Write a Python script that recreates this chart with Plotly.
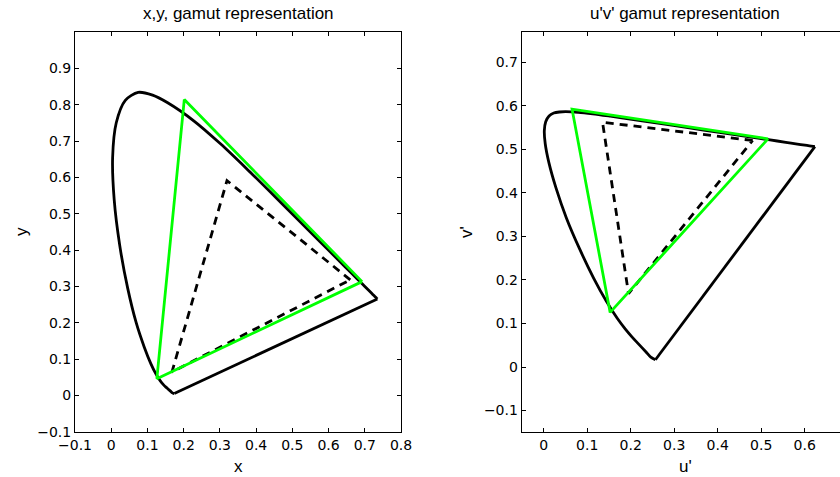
import plotly.graph_objects as go

# CIE 1931 spectral locus (x, y) chromaticities, 380 nm -> 700 nm
locus_x = [0.1741, 0.1689, 0.1644, 0.1566, 0.1510, 0.1440, 0.1355, 0.1241, 0.1096,
           0.0913, 0.0687, 0.0454, 0.0235, 0.0082, 0.0039, 0.0139, 0.0389, 0.0743, 0.1142,
           0.1547, 0.2296, 0.3016, 0.3731, 0.4441, 0.5125, 0.5752, 0.6270, 0.6658, 0.6915,
           0.7079, 0.7190, 0.7260, 0.7300, 0.7334, 0.7347]
locus_y = [0.0050, 0.0069, 0.0109, 0.0177, 0.0227, 0.0297, 0.0399, 0.0578, 0.0868,
           0.1327, 0.2007, 0.2950, 0.4127, 0.5384, 0.6548, 0.7502, 0.8120, 0.8338, 0.8262,
           0.8059, 0.7543, 0.6923, 0.6245, 0.5547, 0.4866, 0.4242, 0.3725, 0.3340, 0.3083,
           0.2920, 0.2809, 0.2740, 0.2700, 0.2666, 0.2653]

# Same locus in u'v'
locus_u = [0.2568, 0.2461, 0.2347, 0.2161, 0.2033, 0.1877, 0.1690, 0.1441, 0.1147,
           0.0828, 0.0521, 0.0282, 0.0119, 0.0035, 0.0014, 0.0046, 0.0123, 0.0231, 0.0360,
           0.0501, 0.0792, 0.1127, 0.1531, 0.2026, 0.2623, 0.3315, 0.4035, 0.4692, 0.5203,
           0.5565, 0.5830, 0.6005, 0.6109, 0.6199, 0.6234]
locus_v = [0.0166, 0.0226, 0.0350, 0.0549, 0.0688, 0.0871, 0.1119, 0.1510, 0.2044,
           0.2708, 0.3427, 0.4117, 0.4698, 0.5131, 0.5432, 0.5638, 0.5770, 0.5837, 0.5861,
           0.5868, 0.5856, 0.5821, 0.5766, 0.5694, 0.5604, 0.5501, 0.5393, 0.5296, 0.5219,
           0.5165, 0.5125, 0.5099, 0.5084, 0.5070, 0.5065]

# Line of purples (700 nm -> 380 nm)
purple_x = [0.7347, 0.1741]
purple_y = [0.2653, 0.0050]
purple_u = [0.6234, 0.2568]
purple_v = [0.5065, 0.0166]

# Wide gamut (green) triangle R, G, B, R
green_x = [0.6925, 0.2017, 0.1260, 0.6925]
green_y = [0.3130, 0.8140, 0.0460, 0.3130]
green_u = [0.5157, 0.0652, 0.1527, 0.5157]
green_v = [0.5245, 0.5925, 0.1255, 0.5245]

# Reference (dashed) triangle R, G, B, R
dash_x = [0.6600, 0.3196, 0.1677, 0.6600]
dash_y = [0.3180, 0.5910, 0.0644, 0.3180]
dash_u = [0.4803, 0.1352, 0.1950, 0.4803]
dash_v = [0.5207, 0.5627, 0.1686, 0.5207]

W, H = 840, 477
TICK_FONT = dict(family="DejaVu Sans", size=14, color="black")
TITLE_FONT = dict(family="Liberation Sans, Arial, sans-serif", size=17, color="black")
LABEL_FONT = dict(family="Liberation Sans, Arial, sans-serif", size=17, color="black")
LW = 2.8

fig = go.Figure()


def add(xs, ys, xa, ya, color, dash="solid", shape="linear"):
    fig.add_trace(go.Scatter(x=xs, y=ys, mode="lines", xaxis=xa, yaxis=ya,
                             line=dict(color=color, width=LW, dash=dash, shape=shape,
                                       smoothing=0.8),
                             showlegend=False, hoverinfo="skip"))


add(locus_x, locus_y, "x", "y", "black", shape="spline")
add(purple_x, purple_y, "x", "y", "black")
add(dash_x, dash_y, "x", "y", "black", "8px,6px")
add(green_x, green_y, "x", "y", "#00ff00")

add(locus_u, locus_v, "x2", "y2", "black", shape="spline")
add(purple_u, purple_v, "x2", "y2", "black")
add(dash_u, dash_v, "x2", "y2", "black", "8px,6px")
add(green_u, green_v, "x2", "y2", "#00ff00")


def px(x):
    return x / W


def py(y):
    return 1 - y / H


axis_common = dict(showgrid=False, zeroline=False, showline=True, linecolor="black",
                   linewidth=1, ticks="inside", ticklen=4, tickcolor="black",
                   tickfont=TICK_FONT, fixedrange=True, automargin=False)

fig.update_layout(
    width=W, height=H, margin=dict(l=0, r=0, t=0, b=0, autoexpand=False),
    paper_bgcolor="white", plot_bgcolor="white",
    xaxis=dict(domain=[px(75), px(401)], range=[-0.1, 0.8],
               tickvals=[-0.1, 0, 0.1, 0.2, 0.3, 0.4, 0.5, 0.6, 0.7, 0.8],
               mirror="allticks", anchor="y", **axis_common),
    yaxis=dict(domain=[py(431.7), py(32)], range=[-0.1, 1.0],
               tickvals=[-0.1, 0, 0.1, 0.2, 0.3, 0.4, 0.5, 0.6, 0.7, 0.8, 0.9],
               mirror="allticks", anchor="x", **axis_common),
    xaxis2=dict(domain=[px(521.7), 1.0], range=[-0.0506, 0.6811],
                tickvals=[0, 0.1, 0.2, 0.3, 0.4, 0.5, 0.6],
                mirror="allticks", anchor="y2", **axis_common),
    yaxis2=dict(domain=[py(431.7), py(32)], range=[-0.1487, 0.770],
                tickvals=[-0.1, 0, 0.1, 0.2, 0.3, 0.4, 0.5, 0.6, 0.7],
                mirror=False, anchor="x2", **axis_common),
)

annotations = [
    dict(text="x,y, gamut representation", x=px(238), y=py(14), font=TITLE_FONT),
    dict(text="u'v' gamut representation", x=px(685), y=py(14), font=TITLE_FONT),
    dict(text="x", x=px(238), y=py(466), font=LABEL_FONT),
    dict(text="u'", x=px(685), y=py(466), font=LABEL_FONT),
    dict(text="y", x=px(21), y=py(232), textangle=-90, font=LABEL_FONT),
    dict(text="v'", x=px(466), y=py(232), textangle=-90, font=LABEL_FONT),
]
for a in annotations:
    fig.add_annotation(xref="paper", yref="paper", showarrow=False,
                       xanchor="center", yanchor="middle", **a)

fig.write_html("out.html")
